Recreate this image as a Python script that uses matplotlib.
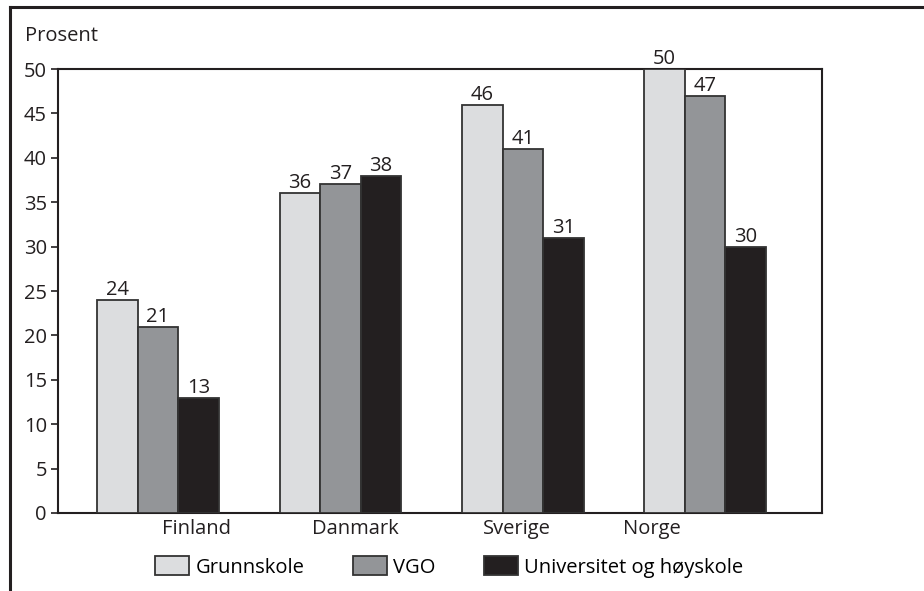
import numpy as np
import matplotlib
matplotlib.use("Agg")
from matplotlib import pyplot as plt
from matplotlib.lines import Line2D

plt.rcParams['font.family'] = ['Open Sans', 'DejaVu Sans']

land = ['Finland', 'Danmark', 'Sverige', 'Norge']
grunnskole = [24, 36, 46, 50]
vgo = [21, 37, 41, 47]
univ = [13, 38, 31, 30]
serier = ['Grunnskole', 'VGO', 'Universitet og høyskole']
farger = ['#dcdddf', '#939598', '#231f20']
# etikettene under aksen sitter litt skjevt i forhold til gruppene
etikett_forskyv = [0.21, 0.08, -0.03, -0.29]
fs = 14.5

fig = plt.figure(figsize=(9.24, 5.91), dpi=100)
ax = fig.add_axes([0.0628, 0.132, 0.8268, 0.7512])

x = np.arange(len(land))
w = 0.222
for i, (verdier, navn, farge) in enumerate(zip([grunnskole, vgo, univ], serier, farger)):
    bars = ax.bar(x + (i - 1) * w, verdier, w, color=farge, edgecolor='#333333',
                  linewidth=1.3, label=navn, zorder=3)
    ax.bar_label(bars, padding=0, fontsize=fs, color='#231f20')

ax.set_xlim(-0.548, 3.64)
ax.set_ylim(0, 50)
ax.set_yticks(range(0, 51, 5))
ax.set_xticks(x + np.array(etikett_forskyv))
ax.set_xticklabels(land)
ax.tick_params(axis='x', length=0, pad=4, labelsize=fs, colors='#231f20')
ax.tick_params(axis='y', length=5, width=1.2, labelsize=fs, colors='#231f20', pad=3)
for s in ax.spines.values():
    s.set_linewidth(1.5)
    s.set_color('#231f20')

fig.text(25 / 924, 1 - 41 / 591, 'Prosent', fontsize=fs, color='#231f20', va='baseline')

fig.legend(loc='center', bbox_to_anchor=(0.486, 1 - 567 / 591), ncol=3, frameon=False,
           fontsize=fs, handlelength=1.7, handleheight=1.05, handletextpad=0.3,
           columnspacing=2.4, borderpad=0)

# ramme oppe og til venstre
fig.add_artist(Line2D([10 / 924, 10 / 924], [0, 1 - 7 / 591], transform=fig.transFigure,
                      color='#231f20', linewidth=2.2))
fig.add_artist(Line2D([10 / 924, 1], [1 - 7 / 591, 1 - 7 / 591], transform=fig.transFigure,
                      color='#231f20', linewidth=2.2))

fig.savefig('out.png', dpi=100)
